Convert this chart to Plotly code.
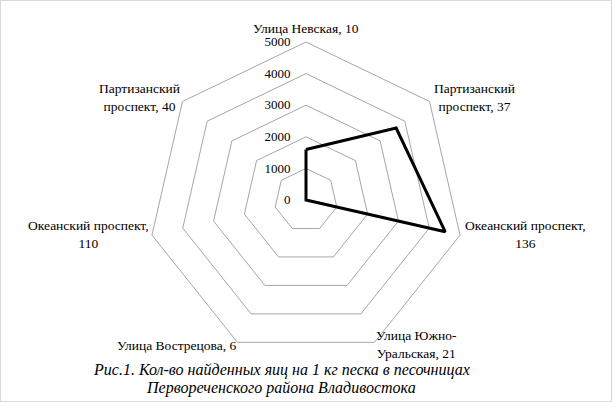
import plotly.graph_objects as go

# streets (with sample count) and eggs per 1 kg of sand
streets = [
    "Улица Невская, 10",
    "Партизанский<br>проспект, 37",
    "Океанский проспект,<br>136",
    "Улица Южно-<br>Уральская, 21",
    "Улица Вострецова, 6",
    "Океанский проспект,<br>110",
    "Партизанский<br>проспект, 40",
]
eggs = [1600, 3650, 4520, 0, 0, 0, 0]
radial_ticks = [0, 1000, 2000, 3000, 4000, 5000]

caption_1 = "Рис.1. Кол-во найденных яиц на 1 кг песка в песочницах"
caption_2 = "Первореченского района Владивостока"

# where Excel put the category labels (pixel centres)
label_xy = [(306, 28), (474, 97), (525, 235), (416, 344), (176, 345), (88, 235), (139, 97)]

font = "Liberation Serif"
grid = "#a6a6a6"
W, H = 612, 402

fig = go.Figure()
fig.add_trace(go.Scatterpolar(
    r=eggs + eggs[:1],
    theta=streets + streets[:1],
    mode="lines",
    line=dict(color="black", width=3),
    showlegend=False,
))

labels = [dict(text=s, x=px / W, y=1 - py / H, xref="paper", yref="paper",
               xanchor="center", yanchor="middle",
               showarrow=False, font=dict(family=font, size=13.5))
          for s, (px, py) in zip(streets, label_xy)]

# transparent padding keeps the radial numbers off the axis like in Excel
pad = "<span style='color:rgba(0,0,0,0)'>00</span>"
radial_text = [f"{v}{pad}" for v in radial_ticks]

fig.update_layout(
    width=W, height=H,
    margin=dict(l=0, r=0, t=0, b=0),
    paper_bgcolor="white",
    font=dict(family=font, size=13.5, color="black"),
    polar=dict(
        domain=dict(x=[(306 - 158) / W, (306 + 158) / W],
                    y=[(H - 358) / H, (H - 42) / H]),
        gridshape="linear",
        bgcolor="white",
        radialaxis=dict(
            range=[0, 5000], tickvals=radial_ticks, ticktext=radial_text, angle=90,
            side="counterclockwise", tickangle=90,
            showline=False, ticks="", gridcolor=grid, gridwidth=1,
            tickfont=dict(family=font, size=13),
        ),
        angularaxis=dict(
            direction="clockwise", rotation=90,
            showgrid=False, showline=True, linecolor=grid, linewidth=1,
            ticks="", showticklabels=False,
        ),
    ),
    shapes=[dict(type="rect", xref="paper", yref="paper", x0=0, y0=0, x1=1, y1=1,
                 line=dict(color="#d9d9d9", width=2))],
    annotations=labels + [
        dict(text=caption_1, x=281 / W, y=1 - 370 / H, xref="paper", yref="paper",
             xanchor="center", yanchor="middle",
             showarrow=False, font=dict(family=font, size=16, style="italic")),
        dict(text=caption_2, x=281 / W, y=1 - 388 / H, xref="paper", yref="paper",
             xanchor="center", yanchor="middle",
             showarrow=False, font=dict(family=font, size=16, style="italic")),
    ],
)

# page has a default 8px body margin, drop it so the chart sits at 0,0
fig.write_html("out.html", config={"displayModeBar": False},
               post_script="document.body.style.margin='0px';")
